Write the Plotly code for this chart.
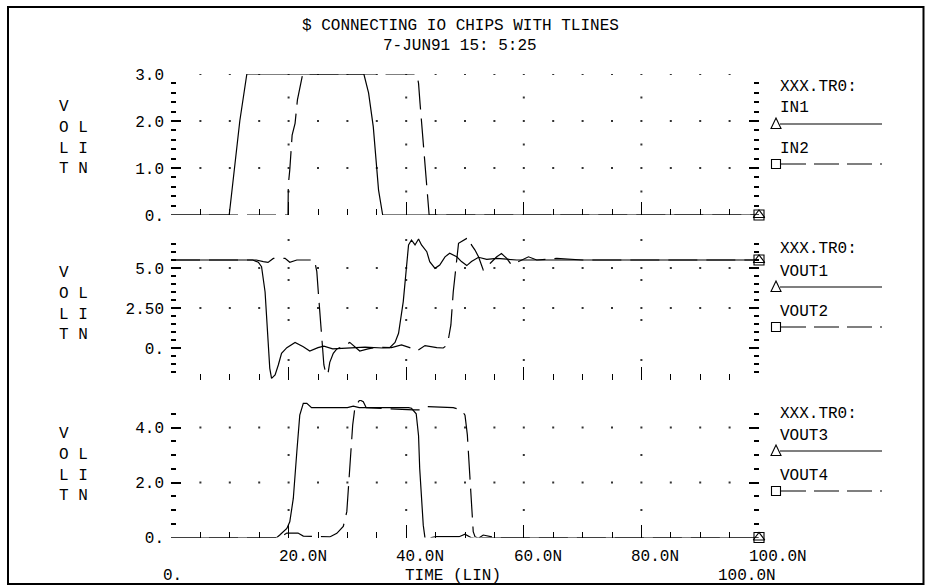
import plotly.graph_objects as go

# ---------------- data (time in ns, voltage in V) ----------------
IN1_t = [0, 9.9, 11.7, 12.9, 32.8, 33.6, 34.4, 35.3, 36.0, 100]
IN1_v = [0, 0, 2.0, 3.0, 3.0, 2.6, 1.88, 0.53, 0, 0]

IN2_t = [0, 19.9, 19.95, 20.2, 20.6, 21.1, 21.5, 21.9, 22.4,
         41.8, 42.1, 42.35, 42.6, 42.9, 43.2, 43.5, 43.65, 43.9, 100]
IN2_v = [0, 0, 0.64, 0.96, 1.7, 1.95, 2.45, 2.7, 3.0,
         3.0, 2.8, 2.38, 2.0, 1.38, 1.03, 0.6, 0.32, 0, 0]

VOUT1_t = [0, 13.9, 14.85, 15.4, 16.0, 16.3, 16.5, 16.8, 17.1, 17.7, 18.25, 18.8,
           19.7, 21.1, 22.5, 23.6, 25.0, 26.0, 27.5, 30.0, 33.0, 36.0, 37.2, 38.1,
           38.7, 39.5, 40.1, 40.4, 40.9, 41.5, 42.1, 42.6, 43.5, 44.0, 44.9, 45.7,
           46.6, 47.4, 48.6, 49.4, 50.3, 51.1, 52.3, 53.7, 55.4, 58.8, 100]
VOUT1_v = [5.5, 5.5, 5.36, 5.08, 3.5, 1.85, 0.19, -1.27, -1.9, -1.69, -1.06, -0.33,
           0.02, 0.35, 0.08, -0.19, 0.02, 0.12, -0.05, 0.0, 0.05, 0.0, 0.02, 0.35,
           0.92, 2.9, 5.19, 6.44, 6.75, 6.44, 6.81, 6.44, 6.02, 5.4, 4.98, 5.19,
           5.7, 5.92, 5.7, 5.4, 5.15, 5.4, 5.67, 5.54, 5.6, 5.5, 5.5]

VOUT2_t = [0, 14.5, 15.7, 16.5, 17.4, 19.4, 20.2, 21.4, 24.4, 24.8, 25.05, 25.3,
           25.6, 25.8, 26.0, 26.4, 26.75, 27.0, 27.6, 28.2, 29.3, 30.4, 31.3, 32.1,
           33.5, 35.0, 37.5, 39.2, 40.6, 41.8, 43.2, 45.2, 46.3, 46.6, 47.2, 47.6,
           48.0, 48.3, 48.6, 48.9, 50.3, 50.7, 51.1, 51.7, 52.3, 53.1, 54.3, 55.4,
           56.2, 57.1, 57.9, 59.4, 60.8, 62.2, 65.6, 70.0, 100]
VOUT2_v = [5.5, 5.5, 5.4, 5.35, 5.6, 5.6, 5.36, 5.5, 5.5, 4.77, 3.5, 2.27,
           0.81, 0.0, -1.06, -1.69, -1.48, -0.9, -0.33, -0.06, 0.1, 0.35, 0.05, -0.19,
           -0.05, 0.05, 0.02, 0.19, 0.02, -0.19, 0.15, 0.02, 0.0, 0.08, 0.6, 1.44,
           3.5, 4.56, 5.8, 6.54, 6.85, 6.9, 6.44, 6.12, 5.7, 4.88, 5.3, 5.7,
           5.9, 5.6, 5.19, 5.44, 5.7, 5.5, 5.6, 5.5, 5.5]

VOUT3_t = [0, 18.0, 18.5, 19.7, 20.2, 20.8, 21.4, 21.9, 22.5, 23.1, 23.9, 30.0,
           31.0, 32.0, 40.4, 40.9, 41.7, 42.1, 42.3, 42.6, 42.9, 43.2, 43.8, 44.3,
           45.1, 49.0, 50.0, 51.0, 52.0, 53.0, 100]
VOUT3_v = [0, 0, 0.09, 0.33, 0.57, 1.42, 3.12, 4.45, 4.88, 4.88, 4.72, 4.72,
           4.78, 4.72, 4.72, 4.7, 4.5, 3.7, 2.5, 1.3, 0.45, -0.03, -0.09, 0.0,
           0.03, 0.03, 0.12, 0.0, -0.05, 0.0, 0]

VOUT4_t = [0, 18.5, 19.7, 21.6, 22.5, 24.8, 27.0, 28.2, 29.3, 29.9, 30.2, 30.6,
           30.9, 31.3, 32.1, 32.7, 33.2, 41.2, 42.3, 43.4, 48.0, 49.4, 50.0, 50.4,
           50.7, 51.1, 51.4, 51.7, 52.3, 53.1, 55.0, 100]
VOUT4_v = [0, 0, 0.16, 0.16, 0.05, 0.03, 0.02, 0.15, 0.4, 0.94, 1.9, 3.12,
           4.09, 4.76, 5.0, 4.94, 4.72, 4.64, 4.64, 4.76, 4.72, 4.64, 4.45, 3.73,
           2.52, 1.3, 0.21, 0.03, -0.03, 0.09, 0, 0]

# axis ticks / labels
TOP_TICKS, TOP_LABELS = [0, 1, 2, 3], ["0.", "1.0", "2.0", "3.0"]
MID_TICKS, MID_LABELS = [0, 2.5, 5.0], ["0.", "2.50", "5.0"]
BOT_TICKS, BOT_LABELS = [0, 2, 4], ["0.", "2.0", "4.0"]
X_MAJOR = [20, 40, 60, 80, 100]
X_LABELS = ["20.0N", "40.0N", "60.0N", "80.0N", "100.0N"]

TITLE = "$ CONNECTING IO CHIPS WITH TLINES"
SUBTITLE = "7-JUN91 15: 5:25"
FILE_LABEL = "XXX.TR0:"
XAXIS_TITLE = "TIME (LIN)"

# ---------------- layout helpers ----------------
W, H = 931, 587
def px(x):
    return x / W
def py(y):
    return 1 - y / H

FONT = "Liberation Mono"
FS = 16
DASH = "29px,9px"
X_DOM = [px(171), px(759)]

panels = [
    dict(n="", yr=[0, 3], dom=[py(215), py(74)], ticks=TOP_TICKS, labels=TOP_LABELS,
         minor=0.2, half=0.5,
         series=[("IN1", IN1_t, IN1_v), ("IN2", IN2_t, IN2_v)], sq=164, ylab=96.5),
    dict(n="2", yr=[-2, 7], dom=[py(380), py(236)], ticks=MID_TICKS, labels=MID_LABELS,
         minor=0.5, half=1.25,
         series=[("VOUT1", VOUT1_t, VOUT1_v), ("VOUT2", VOUT2_t, VOUT2_v)], sq=327, ylab=261.5),
    dict(n="3", yr=[0, 5], dom=[py(537.5), py(400)], ticks=BOT_TICKS, labels=BOT_LABELS,
         minor=0.5, half=1.0,
         series=[("VOUT3", VOUT3_t, VOUT3_v), ("VOUT4", VOUT4_t, VOUT4_v)], sq=491, ylab=423.5),
]

fig = go.Figure()
shapes = []
annotations = []

x_minor = [v for v in range(5, 100, 5) if v not in X_MAJOR]

for p in panels:
    xa, ya = "x" + p["n"], "y" + p["n"]
    # grid dots
    gx, gy = [], []
    for yv in p["ticks"][1:]:
        for xv in range(5, 100, 5):
            gx.append(xv); gy.append(yv)
    k = p["yr"][0] + p["half"]
    levels = []
    while k < p["yr"][1]:
        if all(abs(k - t) > 1e-6 for t in p["ticks"]):
            levels.append(k)
        k += 2 * p["half"]
    for xv in X_MAJOR[:-1]:
        for yv in levels:
            gx.append(xv); gy.append(yv)
    fig.add_trace(go.Scatter(x=gx, y=gy, mode="markers", xaxis=xa, yaxis=ya,
                             marker=dict(symbol="square", size=2, color="#333"),
                             hoverinfo="skip", showlegend=False))
    # traces
    for i, (name, t, v) in enumerate(p["series"]):
        fig.add_trace(go.Scatter(x=t, y=v, mode="lines", name=name, xaxis=xa, yaxis=ya,
                                 line=dict(color="black", width=1.2,
                                           dash="solid" if i == 0 else DASH),
                                 cliponaxis=False, showlegend=False))
        fig.add_trace(go.Scatter(x=[t[-1]], y=[v[-1]], mode="markers", xaxis=xa, yaxis=ya,
                                 marker=dict(symbol="triangle-up-open" if i == 0 else "square-open",
                                             size=10, color="black", line=dict(width=1.1)),
                                 cliponaxis=False, showlegend=False, hoverinfo="skip"))
    # axes
    xkey = "xaxis" + p["n"]
    ykey = "yaxis" + p["n"]
    fig.update_layout(**{
        xkey: dict(domain=X_DOM, range=[0, 100], anchor=ya, showgrid=False, zeroline=False,
                   showline=False, showticklabels=False, ticks="inside", ticklen=13,
                   tickcolor="black", tickwidth=1, tickmode="array", tickvals=X_MAJOR[:-1],
                   minor=dict(tickmode="array", tickvals=x_minor, ticks="inside", ticklen=6,
                              tickcolor="black", showgrid=False)),
        ykey: dict(domain=p["dom"], range=p["yr"], anchor=xa, showgrid=False, zeroline=False,
                   showline=False, mirror="ticks", ticks="inside", ticklen=10,
                   tickcolor="black", tickwidth=1.5, tickmode="array", tickvals=p["ticks"],
                   ticktext=p["labels"], tickfont=dict(family=FONT, size=FS, color="black"),
                   ticklabelstandoff=6,
                   minor=dict(dtick=p["minor"], tick0=0, ticks="inside", ticklen=5,
                              tickcolor="black", showgrid=False)),
    })
    # y-axis label VOLT / LIN
    annotations.append(dict(xref="paper", yref="paper", x=px(57), y=py(p["ylab"]),
                            xanchor="left", yanchor="top", align="left", showarrow=False,
                            text="V<br>O L<br>L I<br>T N",
                            font=dict(family=FONT, size=FS, color="black")))
    # legend block
    sq = p["sq"]
    rows = [(FILE_LABEL, sq - 77.5), (p["series"][0][0], sq - 55.5), (p["series"][1][0], sq - 15)]
    for txt, yy in rows:
        annotations.append(dict(xref="paper", yref="paper", x=px(778), y=py(yy),
                                xanchor="left", yanchor="middle", showarrow=False, text=txt,
                                font=dict(family=FONT, size=FS, color="black")))
    ytri = sq - 40
    shapes.append(dict(type="line", xref="paper", yref="paper", x0=px(780), x1=px(882),
                       y0=py(ytri), y1=py(ytri), line=dict(color="black", width=1.2)))
    shapes.append(dict(type="path", xref="paper", yref="paper",
                       path="M {a},{b} L {c},{b} L {d},{e} Z".format(
                           a=px(771), b=py(ytri + 4.5), c=px(781), d=px(776), e=py(ytri - 6)),
                       line=dict(color="black", width=1.1)))
    shapes.append(dict(type="line", xref="paper", yref="paper", x0=px(781), x1=px(882),
                       y0=py(sq), y1=py(sq), line=dict(color="black", width=1.2, dash="25px,8px")))
    shapes.append(dict(type="rect", xref="paper", yref="paper", x0=px(771.5), x1=px(780.5),
                       y0=py(sq + 4.5), y1=py(sq - 4.5), line=dict(color="black", width=1.1)))

# x tick labels (bottom panel)
for v, lab in zip(X_MAJOR, X_LABELS):
    annotations.append(dict(xref="x3", yref="paper", x=v, y=py(557), xanchor="left",
                            yanchor="middle", xshift=-12, showarrow=False, text=lab,
                            font=dict(family=FONT, size=FS, color="black")))
# range labels & axis title
annotations.append(dict(xref="x3", yref="paper", x=0, y=py(576), xanchor="left", xshift=-10,
                        yanchor="middle", showarrow=False, text="0.",
                        font=dict(family=FONT, size=FS, color="black")))
annotations.append(dict(xref="paper", yref="paper", x=px(453), y=py(576), xanchor="center",
                        yanchor="middle", showarrow=False, text=XAXIS_TITLE,
                        font=dict(family=FONT, size=FS, color="black")))
annotations.append(dict(xref="x3", yref="paper", x=100, y=py(576), xanchor="right", xshift=19,
                        yanchor="middle", showarrow=False, text="100.0N",
                        font=dict(family=FONT, size=FS, color="black")))
# titles
annotations.append(dict(xref="paper", yref="paper", x=px(460), y=py(26), xanchor="center",
                        yanchor="middle", showarrow=False, text=TITLE,
                        font=dict(family=FONT, size=FS, color="black")))
annotations.append(dict(xref="paper", yref="paper", x=px(460), y=py(46), xanchor="center",
                        yanchor="middle", showarrow=False, text=SUBTITLE,
                        font=dict(family=FONT, size=FS, color="black")))

# frame
shapes.append(dict(type="rect", xref="paper", yref="paper", x0=px(8), x1=px(923.5),
                   y0=py(584), y1=py(7), line=dict(color="black", width=2)))

fig.update_layout(width=W, height=H, autosize=False,
                  margin=dict(l=0, r=0, t=0, b=0, pad=0, autoexpand=False),
                  paper_bgcolor="white", plot_bgcolor="rgba(0,0,0,0)", showlegend=False,
                  shapes=shapes, annotations=annotations)

fig.write_html("out.html")
